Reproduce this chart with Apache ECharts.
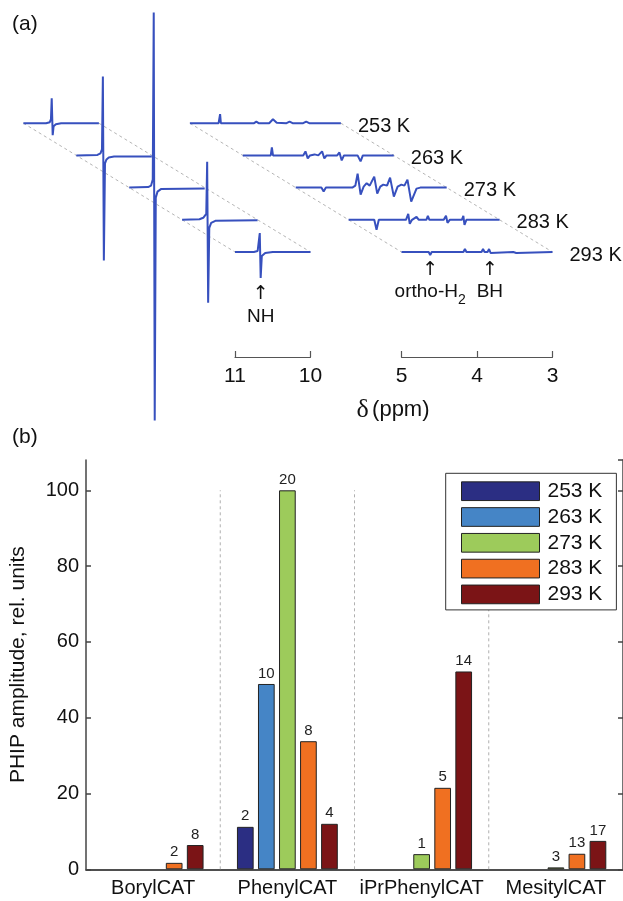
<!DOCTYPE html>
<html><head><meta charset="utf-8">
<script src="https://cdn.jsdelivr.net/npm/echarts@6/dist/echarts.min.js"></script>
<style>html,body{margin:0;padding:0;background:#fff}#c{width:623px;height:901px}</style>
</head><body><div id="c"></div>
<script>
// ---------------- Panel (a) data: NMR traces, [ppm, relative intensity] ----------------
const temps = ['253 K', '263 K', '273 K', '283 K', '293 K'];

const nh253 = [[11,0],[10.70,0],[10.65,1],[10.635,4],[10.625,25],[10.612,-12],[10.60,-3],[10.57,-1],[10.5,0],[10,0]];
const nh263 = [[11,0],[10.72,0.5],[10.68,2],[10.66,6],[10.648,79],[10.635,-105],[10.62,-8],[10.60,-4],[10.57,-2],[10.5,-1.2],[10,-1]];
const nh273 = [[11,0],[10.75,0.5],[10.71,2],[10.688,8],[10.675,175],[10.662,-233],[10.648,-10],[10.625,-4],[10.58,-1.5],[10,-1]];
const nh283 = [[11,0],[10.77,0.5],[10.72,2],[10.68,6],[10.668,58],[10.655,-83],[10.64,-8],[10.615,-3],[10.56,-1],[10,-0.5]];
const nh293 = [[11,0],[10.75,0],[10.70,1],[10.682,3],[10.672,19],[10.66,-26],[10.645,-4],[10.6,-1],[10.5,0],[10,0]];

const ch253 = [[5,0],[4.95,0],[4.93,1],[4.91,0],[4.62,0],[4.61,1],[4.60,9],[4.59,0],[4.57,0],[4.15,0],[4.12,1.5],[4.09,0],[3.95,0],[3.90,4],[3.85,0.5],[3.72,0],[3.68,1.5],[3.64,0],[3.50,0],[3.46,1.5],[3.42,0],[3,0]];
const ch263 = [[5,0],[4.63,0],[4.615,8],[4.60,0],[4.2,0],[4.17,4],[4.14,-3],[4.11,0],[4.05,1],[4.0,0],[3.95,4],[3.92,-3],[3.89,0],[3.75,0],[3.72,3],[3.69,-5],[3.66,0],[3.48,0],[3.46,2],[3.44,-6],[3.41,0],[3,0]];
const ch273 = [[5,0],[4.66,0],[4.63,-4],[4.60,0],[4.25,0],[4.21,2],[4.18,14],[4.14,-7],[4.10,1],[4.06,4.4],[4.02,2],[3.96,11],[3.92,-6],[3.88,1],[3.84,3],[3.79,2],[3.75,10],[3.70,-9],[3.65,1],[3.60,3],[3.56,2],[3.52,8],[3.47,-14],[3.40,-1],[3.35,0],[3,0]];
const ch283 = [[5,0],[4.66,0],[4.63,-10],[4.60,0],[4.24,0],[4.21,6],[4.19,-4],[4.16,0],[4.10,3],[4.07,0],[3.97,0],[3.95,4],[3.93,0],[3.87,0],[3.85,2],[3.83,0],[3.74,0],[3.71,4],[3.69,-3],[3.66,0],[3.50,0],[3.48,4],[3.465,-5],[3.44,0],[3,0]];
const ch293 = [[5,0],[4.64,0],[4.62,-3],[4.60,0],[4.18,0],[4.16,3],[4.14,0],[3.94,0],[3.92,3],[3.90,0],[3.86,0],[3.84,3],[3.82,-1],[3.80,0],[3.52,0],[3.50,2],[3.48,-1],[3.46,0],[3,0]];

const ppmLeftRange = [10, 11];
const ppmRightRange = [3, 5];
const segEnds = [11, 10, 5, 3];
const annPpm = [10.66, 4.62, 3.83];
const annText = ['NH', 'ortho-H2', 'BH'];

// ---------------- Panel (b) data ----------------
const categories = ['BorylCAT', 'PhenylCAT', 'iPrPhenylCAT', 'MesitylCAT'];
const amp253 = [null, 11.2, null, null];
const amp263 = [null, 48.9, null, null];
const amp273 = [null, 100, 4.0, 0.5];
const amp283 = [1.7, 33.8, 21.5, 4.1];
const amp293 = [6.4, 12.0, 52.2, 7.5];
const lab253 = ['', '2', '', ''];
const lab263 = ['', '10', '', ''];
const lab273 = ['', '20', '1', '3'];
const lab283 = ['2', '8', '5', '13'];
const lab293 = ['8', '4', '14', '17'];
const yTickMax = 100;

// ---------------- layout ----------------
const FONT = 'Liberation Sans, Arial, sans-serif';
const PX = 75.5;               // px per ppm on the front trace
const X0 = 235;                // pixel of 11 ppm on front trace
const GAP = 91 / PX;           // gap between 10 and 5 ppm
const DX = 52.9 / PX;          // shift per trace (back)
const DY = 32.2;               // vertical shift per trace
const BASE = 252;              // pixel of front baseline
const A_H = 430;
const traceColor = '#3750be';
const barColors = ['#2b2e83', '#4585c6', '#9dcb5b', '#f07021', '#7b1416'];

function uOf(p) { return p >= 9 ? 11 - p : 1 + GAP + (5 - p); }
function trace(pts, b) { return pts.map(([p, a]) => [uOf(p) - b * DX, a + b * DY]); }

const nhAll = [nh253, nh263, nh273, nh283, nh293];
const chAll = [ch253, ch263, ch273, ch283, ch293];
const ampAll = [amp253, amp263, amp273, amp283, amp293];
const labAll = [lab253, lab263, lab273, lab283, lab293];

const series = [];
// dashed connectors
segEnds.forEach((p, i) => {
  series.push({
    type: 'line', name: 'conn' + i, xAxisIndex: 0, yAxisIndex: 0, z: 1,
    data: [[uOf(p) - 4 * DX, 4 * DY], [uOf(p), 0]],
    showSymbol: false, silent: true, animation: false,
    lineStyle: { color: '#b5b5b5', width: 1, type: [3, 3] }
  });
});
temps.forEach((t, k) => {
  const b = 4 - k;
  series.push({
    type: 'line', name: 'nh' + k, xAxisIndex: 0, yAxisIndex: 0, z: 3 + k,
    data: trace(nhAll[k], b), showSymbol: false, animation: false,
    lineStyle: { color: traceColor, width: 2 }
  });
  series.push({
    type: 'line', name: 'ch' + k, xAxisIndex: 0, yAxisIndex: 0, z: 3 + k,
    data: trace(chAll[k], b), showSymbol: false, animation: false,
    lineStyle: { color: traceColor, width: 2 },
    endLabel: { show: true, formatter: t, fontSize: 20, fontFamily: FONT, color: '#111', distance: 17, offset: [0, 3] }
  });
});
// annotations
const arrowV = [-42, -18.5, -18.5];
const textV = [-64.7, -39.7, -39.7];
series.push({
  type: 'scatter', name: 'arrows', xAxisIndex: 0, yAxisIndex: 0, symbolSize: 0, silent: true, animation: false,
  itemStyle: { opacity: 1 },
  data: annPpm.map((p, i) => [uOf(p), arrowV[i]]),
  label: { show: true, position: 'inside', formatter: '↑', fontSize: 19, fontFamily: 'DejaVu Sans', color: '#111' }
});
series.push({
  type: 'scatter', name: 'anntext', xAxisIndex: 0, yAxisIndex: 0, symbolSize: 0, silent: true, animation: false,
  itemStyle: { opacity: 1 },
  data: annPpm.map((p, i) => [uOf(p), textV[i]]),
  label: {
    show: true, position: 'inside', fontSize: 19, fontFamily: FONT, color: '#111',
    formatter: (pr) => {
      const s = annText[pr.dataIndex];
      const m = s.match(/^(.*H)(2)$/);
      return m ? '{a|' + m[1] + '}{s|' + m[2] + '}' : '{a|' + s + '}';
    },
    rich: {
      a: { fontSize: 19, fontFamily: FONT, color: '#111' },
      s: { fontSize: 14, fontFamily: FONT, color: '#111', padding: [16, 0, 0, 0] }
    }
  }
});
// dividers in panel b
for (let i = 1; i < categories.length; i++) {
  series.push({
    type: 'line', name: 'div' + i, xAxisIndex: 5, yAxisIndex: 3, z: 1,
    data: [[i + 0.5, 0], [i + 0.5, yTickMax]], showSymbol: false, silent: true, animation: false,
    lineStyle: { color: '#b0b0b0', width: 1, type: [3, 3] }
  });
}
// bars
temps.forEach((t, k) => {
  series.push({
    type: 'bar', name: t, xAxisIndex: 3, yAxisIndex: 3, z: 3,
    data: ampAll[k].map(v => v === null ? '-' : v),
    barWidth: 16.7, barGap: '26%', animation: false,
    itemStyle: { color: barColors[k], borderColor: '#222', borderWidth: 1 },
    label: {
      show: true, position: 'top', distance: 3, fontSize: 15, fontFamily: FONT, color: '#222',
      formatter: (p) => labAll[k][p.dataIndex]
    }
  });
});

const axisCol = '#444';
const option = {
  backgroundColor: '#fff',
  animation: false,
  grid: [
    { left: 0, top: 0, width: 623, height: A_H },
    { left: X0, top: 330, width: PX, height: 27 },
    { left: X0 + PX + GAP * PX, top: 330, width: 2 * PX, height: 27 },
    { left: 83.5, top: 460, width: 542.5, height: 409.3 }
  ],
  xAxis: [
    { gridIndex: 0, type: 'value', min: -X0 / PX, max: (623 - X0) / PX, show: false },
    { gridIndex: 1, type: 'value', min: ppmLeftRange[0], max: ppmLeftRange[1], interval: 1, inverse: true,
      axisLine: { lineStyle: { color: '#555', width: 1.2 } },
      axisTick: { inside: true, length: 6, lineStyle: { color: '#555', width: 1.2 } },
      axisLabel: { fontSize: 21, fontFamily: FONT, color: '#111', margin: 9 }, splitLine: { show: false } },
    { gridIndex: 2, type: 'value', min: ppmRightRange[0], max: ppmRightRange[1], interval: 1, inverse: true,
      axisLine: { lineStyle: { color: '#555', width: 1.2 } },
      axisTick: { inside: true, length: 6, lineStyle: { color: '#555', width: 1.2 } },
      axisLabel: { fontSize: 21, fontFamily: FONT, color: '#111', margin: 9 }, splitLine: { show: false } },
    { gridIndex: 3, type: 'category', data: categories, position: 'bottom',
      axisLine: { lineStyle: { color: axisCol, width: 1.5 } },
      axisTick: { inside: true, alignWithLabel: true, length: 5, lineStyle: { color: axisCol, width: 1.5 } },
      axisLabel: { fontSize: 20, fontFamily: FONT, color: '#111', margin: 9, interval: 0 } },
    { gridIndex: 3, type: 'category', data: categories, position: 'top',
      axisLine: { lineStyle: { color: axisCol, width: 1.5 } },
      axisTick: { inside: true, alignWithLabel: true, length: 5, lineStyle: { color: axisCol, width: 1.5 } },
      axisLabel: { show: false } },
    { gridIndex: 3, type: 'value', min: 0.5, max: categories.length + 0.5, show: false }
  ],
  yAxis: [
    { gridIndex: 0, type: 'value', min: BASE - A_H, max: BASE, show: false },
    { gridIndex: 1, type: 'value', show: false },
    { gridIndex: 2, type: 'value', show: false },
    { gridIndex: 3, type: 'value', min: 0, max: 108, interval: 20, position: 'left',
      name: 'PHIP amplitude, rel. units', nameLocation: 'middle', nameGap: 57,
      nameTextStyle: { fontSize: 21, fontFamily: FONT, color: '#111' },
      axisLine: { show: true, lineStyle: { color: axisCol, width: 1.5 } },
      axisTick: { show: true, inside: true, length: 5, lineStyle: { color: axisCol, width: 1.5 } },
      axisLabel: { fontSize: 20, fontFamily: FONT, color: '#111', margin: 7, showMaxLabel: false },
      splitLine: { show: false } },
    { gridIndex: 3, type: 'value', min: 0, max: 108, interval: 20, position: 'right',
      axisLine: { show: true, lineStyle: { color: axisCol, width: 1.5 } },
      axisTick: { show: true, inside: true, length: 5, lineStyle: { color: axisCol, width: 1.5 } },
      axisLabel: { show: false }, splitLine: { show: false } }
  ],
  legend: {
    data: temps, orient: 'vertical', left: 445.7, top: 473.3,
    padding: [7.4, 14, 5, 15.3], itemWidth: 78, itemHeight: 18.7, itemGap: 4.8,
    borderColor: '#333', borderWidth: 1, backgroundColor: '#fff', selectedMode: false,
    icon: 'rect', itemStyle: { borderColor: '#222', borderWidth: 1 },
    textStyle: { fontSize: 21, fontFamily: FONT, color: '#111', padding: [0, 0, 0, 3] }
  },
  graphic: [
    { type: 'text', left: 12, top: 14, style: { text: '(a)', fontSize: 21, fontFamily: FONT, fill: '#111' } },
    { type: 'text', left: 12, top: 427, style: { text: '(b)', fontSize: 21, fontFamily: FONT, fill: '#111' } },
    { type: 'text', x: 393, y: 410, style: {
        text: '{d|δ} {p|(ppm)}', align: 'center', verticalAlign: 'middle',
        rich: { d: { fontSize: 26, fontFamily: 'Liberation Serif, serif', fill: '#111' },
                p: { fontSize: 22, fontFamily: FONT, fill: '#111' } } } }
  ],
  series: series
};
const chart = echarts.init(document.getElementById('c'), null, { renderer: 'canvas' });
chart.setOption(option);
</script></body></html>
